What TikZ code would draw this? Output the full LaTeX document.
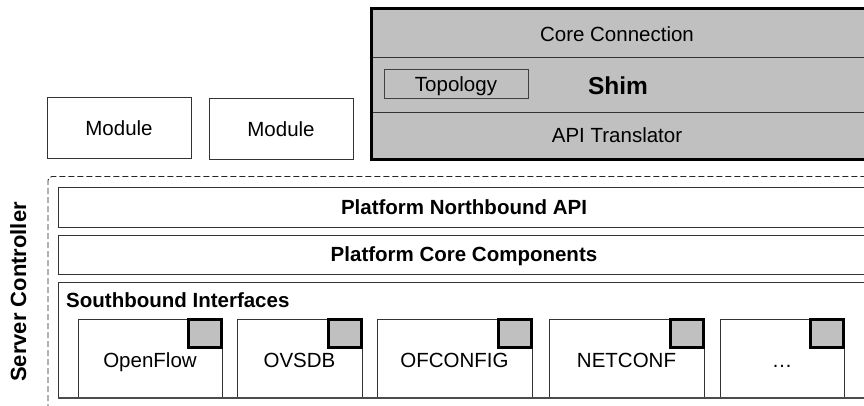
\documentclass[tikz,border=0pt]{standalone}
\usepackage{xcolor}
\usepackage{fontspec}
\setmainfont{Liberation Sans}
\usepackage{tikz}
\usetikzlibrary{positioning}

\definecolor{shimgray}{HTML}{C0C0C0}
\definecolor{edgegray}{HTML}{333333}

\tikzset{
	txt/.style={font=\fontsize{20.5}{24}\selectfont, text=black, inner sep=0pt, text height=14.5pt, text depth=0pt},
	bold/.style={txt, font=\fontsize{20.5}{24}\selectfont\bfseries},
	box/.style={draw=edgegray, line width=1pt, fill=white, inner sep=0pt, text height=14.5pt, text depth=0pt, font=\fontsize{20.5}{24}\selectfont},
	layer/.style={box, font=\fontsize{20.5}{24}\selectfont\bfseries},
	iface/.style={box, minimum height=79pt},
	port/.style={draw=black, line width=3pt, fill=shimgray, inner sep=0pt, minimum width=33pt, minimum height=28pt}
}

\begin{document}
\begin{tikzpicture}[x=1pt, y=-1pt]
	\useasboundingbox (0,0) rectangle (864,406);
	\clip (0,0) rectangle (864,406);

	\node[box, minimum width=144pt, minimum height=61pt] (mod1) at (119,128.5) {Module};
	\node[box, minimum width=144pt, minimum height=61pt] (mod2) at (281,129) {Module};

	\draw[line width=3pt, fill=shimgray] (371,9) rectangle (880,160);
	\draw[line width=0.8pt, draw=edgegray] (372.5,57) -- (880,57);
	\draw[line width=0.8pt, draw=edgegray] (372.5,112) -- (880,112);
	\node[txt] (conn) at (617,34) {Core Connection};
	\node[box, draw=black!75, fill=shimgray, minimum width=144pt, minimum height=29pt] (topo) at (456,84.5) {Topology};
	\node[txt, text height=17.5pt, font=\fontsize{24.5}{28}\selectfont\bfseries] (shim) at (618,86) {Shim};
	\node[txt] (trans) at (617,135) {API Translator};

	\draw[dash pattern=on 6pt off 3pt, line width=0.9pt, draw=black!85, rounded corners=4pt] (48,410) |- (880,176.5);
	\node[bold, text height=16pt, font=\fontsize{22}{26}\selectfont\bfseries, rotate=90] (ctrl) at (18,292) {Server Controller};

	\node[layer, minimum width=812pt, minimum height=39pt] (nbapi) at (464,207.5) {Platform Northbound API};
	\node[layer, minimum width=812pt, minimum height=39pt] (core) at (464,254.5) {Platform Core Components};
	\node[layer, minimum width=812pt, minimum height=116pt] (south) at (464,340) {};
	\node[bold, anchor=west] (southlbl) at (66,300) {Southbound Interfaces};

	\foreach \name/\xa/\xb/\lbl in {of/78/222/OpenFlow, ovsdb/237/362/OVSDB, ofc/377/532/OFCONFIG, netc/549/704/NETCONF, more/720/844/\ldots} {
		\node[iface, minimum width=\xb-\xa] (\name) at ({(\xa+\xb)/2},358.5) {\raisebox{-1.5pt}{\lbl}};
		\node[port, anchor=north east] (\name-port) at ([xshift=0.5pt, yshift=1pt]\name.north east) {};
	}
	\draw[line width=2pt, draw=black!70] (58,398) -- (880,398);
\end{tikzpicture}
\end{document}
